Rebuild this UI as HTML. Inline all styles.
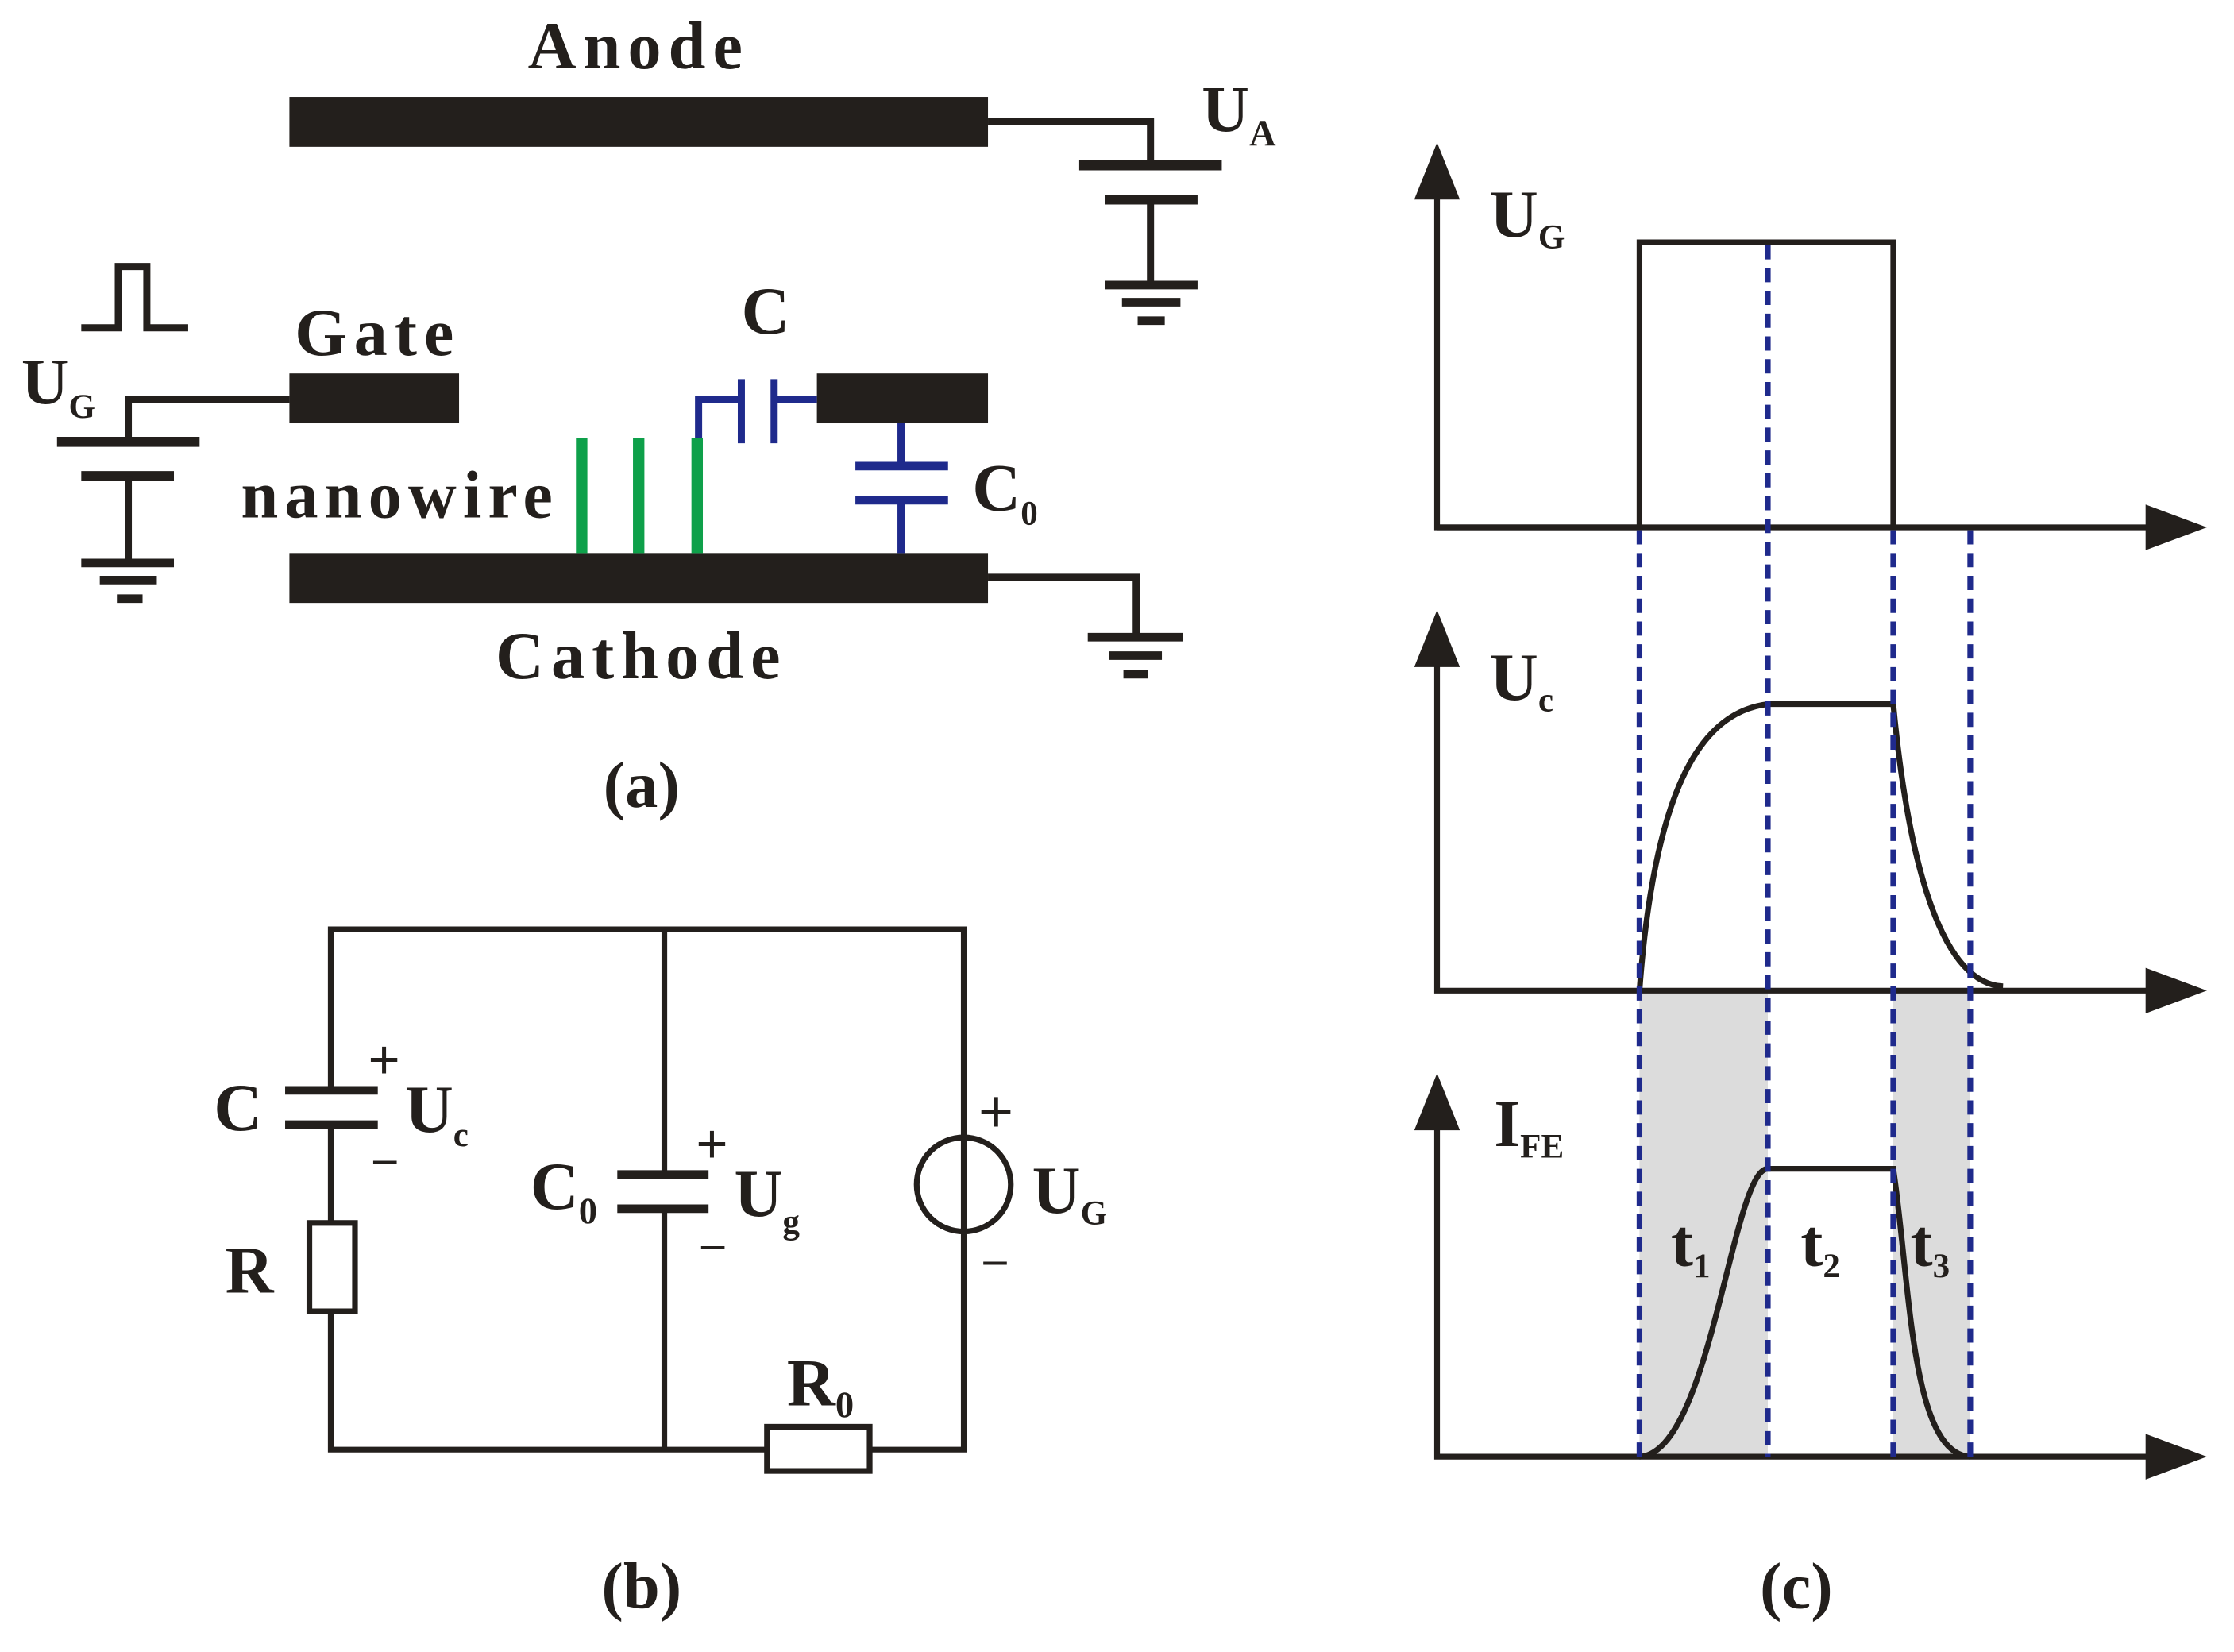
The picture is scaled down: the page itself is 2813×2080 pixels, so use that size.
<!DOCTYPE html>
<html><head><style>
html,body{margin:0;padding:0;background:#fff;}
svg{display:block;}
text{font-family:"Liberation Serif",serif;font-weight:bold;fill:#231f1c;}
</style></head><body>
<svg width="2813" height="2080" viewBox="0 0 1567 1159" preserveAspectRatio="none" xmlns="http://www.w3.org/2000/svg">
<g stroke="#231f1c" stroke-width="5" fill="none">
<!-- (a) -->
<polyline points="693,85 807,85 807,116"/>
<line x1="757" y1="116" x2="857" y2="116" stroke-width="7"/>
<line x1="775" y1="140" x2="840" y2="140" stroke-width="7"/>
<line x1="807" y1="140" x2="807" y2="200"/>
<line x1="775" y1="200" x2="840" y2="200" stroke-width="6"/>
<line x1="787" y1="212" x2="828" y2="212" stroke-width="6"/>
<line x1="798" y1="225" x2="817" y2="225" stroke-width="6"/>
<polyline points="203,280 90,280 90,310"/>
<line x1="40" y1="310" x2="140" y2="310" stroke-width="7"/>
<line x1="57" y1="334" x2="122" y2="334" stroke-width="7"/>
<line x1="90" y1="334" x2="90" y2="395"/>
<line x1="57" y1="395" x2="122" y2="395" stroke-width="6"/>
<line x1="70" y1="407" x2="110" y2="407" stroke-width="6"/>
<line x1="82" y1="420" x2="100" y2="420" stroke-width="6"/>
<polyline points="57,230 83,230 83,187 103,187 103,230 132,230"/>
<polyline points="693,405 797,405 797,447"/>
<line x1="763" y1="447" x2="830" y2="447" stroke-width="6"/>
<line x1="778" y1="460" x2="815" y2="460" stroke-width="6"/>
<line x1="788" y1="473" x2="805" y2="473" stroke-width="6"/>
</g>
<rect x="203" y="68" width="490" height="35" fill="#231f1c"/>
<rect x="203" y="262" width="119" height="35" fill="#231f1c"/>
<rect x="573" y="262" width="120" height="35" fill="#231f1c"/>
<rect x="203" y="388" width="490" height="35" fill="#231f1c"/>
<g stroke="#1f2a8c" stroke-width="5" fill="none">
<polyline points="490,307 490,280 520,280"/>
<line x1="520" y1="266" x2="520" y2="311"/>
<line x1="543" y1="266" x2="543" y2="311"/>
<line x1="543" y1="280" x2="573" y2="280"/>
<line x1="632" y1="297" x2="632" y2="327"/>
<line x1="600" y1="327" x2="665" y2="327" stroke-width="6"/>
<line x1="600" y1="351" x2="665" y2="351" stroke-width="6"/>
<line x1="632" y1="351" x2="632" y2="388"/>
</g>
<g stroke="#0ea04a" stroke-width="8">
<line x1="408" y1="307" x2="408" y2="388"/>
<line x1="448" y1="307" x2="448" y2="388"/>
<line x1="489" y1="307" x2="489" y2="388"/>
</g>
<text x="448" y="48" font-size="47" text-anchor="middle" letter-spacing="5">Anode</text>
<text x="843" y="92" font-size="46">U<tspan font-size="26" dy="10">A</tspan></text>
<text x="265" y="249" font-size="47" text-anchor="middle" letter-spacing="5">Gate</text>
<text x="15" y="283" font-size="46">U<tspan font-size="24" dy="10">G</tspan></text>
<text x="537" y="234" font-size="47" text-anchor="middle">C</text>
<text x="682" y="358" font-size="47">C<tspan font-size="24" dy="10">0</tspan></text>
<text x="169" y="363" font-size="47" letter-spacing="4.5">nanowire</text>
<text x="450" y="476" font-size="47" text-anchor="middle" letter-spacing="5">Cathode</text>
<text x="450" y="566" font-size="46" text-anchor="middle">(a)</text>
<!-- (b) -->
<g stroke="#231f1c" stroke-width="4" fill="none">
<polyline points="232,765 232,652 676,652 676,798"/>
<polyline points="232,789 232,858"/>
<polyline points="232,920 232,1017 538,1017"/>
<polyline points="610,1017 676,1017 676,864"/>
<line x1="466" y1="652" x2="466" y2="824"/>
<line x1="466" y1="848" x2="466" y2="1017"/>
<line x1="200" y1="765" x2="265" y2="765" stroke-width="6"/>
<line x1="200" y1="789" x2="265" y2="789" stroke-width="6"/>
<rect x="217" y="858" width="32" height="62"/>
<line x1="433" y1="824" x2="497" y2="824" stroke-width="6"/>
<line x1="433" y1="848" x2="497" y2="848" stroke-width="6"/>
<circle cx="676" cy="831" r="33"/>
<line x1="676" y1="798" x2="676" y2="864"/>
<rect x="538" y="1001" width="72" height="31"/>
</g>
<text x="150" y="793" font-size="47">C</text>
<text x="258" y="757" font-size="40" font-weight="normal">+</text>
<text x="284" y="794" font-size="47">U<tspan font-size="24" dy="10">c</tspan></text>
<text x="262" y="812" font-size="32" font-weight="normal">_</text>
<text x="158" y="907" font-size="47">R</text>
<text x="372" y="848" font-size="47">C<tspan font-size="26" dy="10">0</tspan></text>
<text x="488" y="816" font-size="40" font-weight="normal">+</text>
<text x="515" y="853" font-size="47">U<tspan font-size="24" dy="12">g</tspan></text>
<text x="492" y="872" font-size="32" font-weight="normal">_</text>
<text x="686" y="795" font-size="44" font-weight="normal">+</text>
<text x="724" y="851" font-size="47">U<tspan font-size="24" dy="8">G</tspan></text>
<text x="690" y="883" font-size="32" font-weight="normal">_</text>
<text x="552" y="986" font-size="47">R<tspan font-size="26" dy="8">0</tspan></text>
<text x="450" y="1128" font-size="46" text-anchor="middle">(b)</text>
<!-- (c) -->
<rect x="1150" y="695" width="90" height="327" fill="#dcdcdc"/>
<rect x="1328" y="695" width="54" height="327" fill="#dcdcdc"/>
<g stroke="#231f1c" stroke-width="4" fill="none">
<polyline points="1008,115 1008,370 1510,370"/>
<polyline points="1008,445 1008,695 1510,695"/>
<polyline points="1008,770 1008,1022 1510,1022"/>
<polyline points="1008,370 1150,370 1150,170 1328,170 1328,370"/>
<path d="M1150,695 C1160,560 1190,500 1240,494 L1328,494 C1338,600 1360,690 1405,692"/>
<path d="M1150,1022 C1200,1020 1215,820 1240,820 L1328,820 C1340,900 1340,1020 1382,1022"/>
</g>
<g fill="#231f1c">
<polygon points="1008,100 992,140 1024,140"/>
<polygon points="1008,428 992,468 1024,468"/>
<polygon points="1008,753 992,793 1024,793"/>
<polygon points="1548,370 1505,354 1505,386"/>
<polygon points="1548,695 1505,679 1505,711"/>
<polygon points="1548,1022 1505,1006 1505,1038"/>
</g>
<g stroke="#1f2a8c" stroke-width="4" stroke-dasharray="10,6">
<line x1="1150" y1="372" x2="1150" y2="1022"/>
<line x1="1240" y1="172" x2="1240" y2="1022"/>
<line x1="1328" y1="372" x2="1328" y2="1022"/>
<line x1="1382" y1="372" x2="1382" y2="1022"/>
</g>
<text x="1045" y="166" font-size="47">U<tspan font-size="24" dy="8">G</tspan></text>
<text x="1045" y="491" font-size="47">U<tspan font-size="24" dy="8">c</tspan></text>
<text x="1048" y="804" font-size="47">I<tspan font-size="24" dy="8">FE</tspan></text>
<text x="1172" y="888" font-size="47">t<tspan font-size="24" dy="8">1</tspan></text>
<text x="1263" y="888" font-size="47">t<tspan font-size="24" dy="8">2</tspan></text>
<text x="1340" y="888" font-size="47">t<tspan font-size="24" dy="8">3</tspan></text>
<text x="1260" y="1128" font-size="46" text-anchor="middle">(c)</text>
</svg>
</body></html>
